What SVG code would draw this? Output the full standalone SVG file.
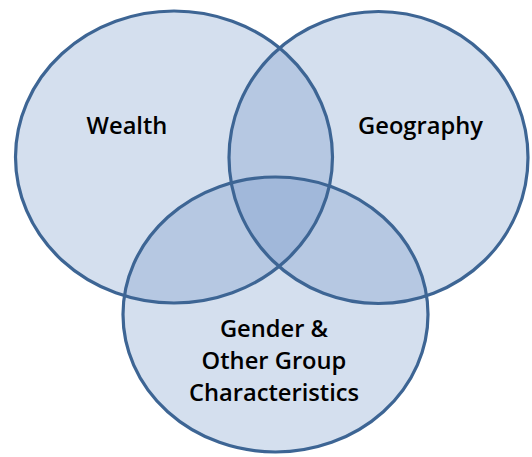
<svg xmlns="http://www.w3.org/2000/svg" xmlns:xlink="http://www.w3.org/1999/xlink" width="532" height="457" viewBox="0 0 532 457">
  <style>
    .set-fill { fill: #7094C6; fill-opacity: 0.3; stroke: none; }
    .set-outline { fill: none; stroke: #3D6594; stroke-width: 3.2; }
    .label { font-family: "Open Sans", "Liberation Sans", sans-serif; font-weight: 600; font-size: 23.7px; fill: #000000; text-anchor: middle; }
  </style>
  <defs>
    <ellipse id="shape-wealth" cx="174" cy="157" rx="158.5" ry="146"/>
    <ellipse id="shape-geography" cx="378.5" cy="157.5" rx="149.5" ry="146"/>
    <ellipse id="shape-gender" cx="275.5" cy="314.5" rx="152.5" ry="137.5"/>
  </defs>

  <rect x="0" y="0" width="532" height="457" fill="#FFFFFF"/>

  <!-- set fills (translucent, so overlaps darken) and their labels -->
  <g id="wealth">
    <use xlink:href="#shape-wealth" class="set-fill"/>
    <text class="label" x="127" y="134">Wealth</text>
  </g>
  <g id="geography">
    <use xlink:href="#shape-geography" class="set-fill"/>
    <text class="label" x="420.5" y="134">Geography</text>
  </g>
  <g id="gender">
    <use xlink:href="#shape-gender" class="set-fill"/>
    <text class="label" x="274" y="337">Gender &amp;</text>
    <text class="label" x="274" y="369">Other Group</text>
    <text class="label" x="274" y="401">Characteristics</text>
  </g>

  <!-- outlines drawn last so every ring keeps one solid colour -->
  <g id="outlines">
    <use xlink:href="#shape-wealth" class="set-outline"/>
    <use xlink:href="#shape-geography" class="set-outline"/>
    <use xlink:href="#shape-gender" class="set-outline"/>
  </g>
</svg>
